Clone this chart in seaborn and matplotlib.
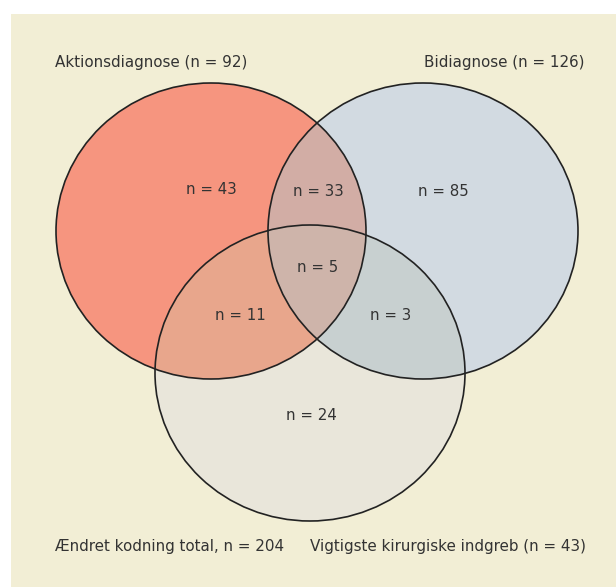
import numpy as np
import pandas as pd
import matplotlib
matplotlib.use("Agg")
import matplotlib.pyplot as plt
from matplotlib.patches import Ellipse, Polygon, Rectangle
import seaborn as sns

# ---- data ----
set_names = ["Aktionsdiagnose", "Bidiagnose", "Vigtigste kirurgiske indgreb"]
set_totals = [92, 126, 43]
total_label = "Ændret kodning total"
total_n = 204
region_keys = ["100", "010", "110", "111", "101", "011", "001"]
region_counts = [43, 85, 33, 5, 11, 3, 24]

sns.set_theme(style="white")
plt.rcParams["font.family"] = ["DejaVu Sans"]

W, H = 616, 587
fig = plt.figure(figsize=(W / 100, H / 100), dpi=100)
fig.patch.set_facecolor("white")
ax = fig.add_axes([0, 0, 1, 1])
ax.set_xlim(0, W)
ax.set_ylim(H, 0)
ax.set_axis_off()

# panel background
ax.add_patch(Rectangle((11, 14), W - 11, H - 14, facecolor="#F2EED5", edgecolor="none", zorder=0))

# ellipse layout (pixel space)
centers = [(211, 231), (423, 231), (310, 373)]
rx, ry = 155, 148
base_cols = ["#F6957F", "#D2DAE1", "#E9E6DA"]
pair_cols = {(0, 1): "#D2ADA5", (0, 2): "#E8A68C", (1, 2): "#C8D0D0"}
triple_col = "#CEB4AA"
text_col = "#333333"

def inside(pts, i, tol=1e-6):
    cx, cy = centers[i]
    return ((pts[:, 0] - cx) / rx) ** 2 + ((pts[:, 1] - cy) / ry) ** 2 <= 1 + tol

def boundary(i, n=1440):
    t = np.linspace(0, 2 * np.pi, n, endpoint=False)
    cx, cy = centers[i]
    return np.column_stack([cx + rx * np.cos(t), cy + ry * np.sin(t)])

def intersection_poly(idx):
    pts = []
    for i in idx:
        b = boundary(i)
        m = np.ones(len(b), bool)
        for j in idx:
            if j != i:
                m &= inside(b, j, 1e-3)
        pts.append(b[m])
    pts = np.vstack(pts)
    c = pts.mean(axis=0)
    ang = np.arctan2(pts[:, 1] - c[1], pts[:, 0] - c[0])
    return pts[np.argsort(ang)]

for i, (c, col) in enumerate(zip(centers, base_cols)):
    ax.add_patch(Ellipse(c, 2 * rx, 2 * ry, facecolor=col, edgecolor="none", zorder=1 + i))
for k, col in pair_cols.items():
    ax.add_patch(Polygon(intersection_poly(k), closed=True, facecolor=col, edgecolor="none", zorder=5))
ax.add_patch(Polygon(intersection_poly((0, 1, 2)), closed=True, facecolor=triple_col, edgecolor="none", zorder=6))
for c in centers:
    ax.add_patch(Ellipse(c, 2 * rx, 2 * ry, facecolor="none", edgecolor="#222222", lw=1.2, zorder=7))

# region labels
label_pos = {"100": (211, 190), "010": (443, 192), "110": (318, 192), "111": (318, 267),
             "101": (240, 316), "011": (391, 316), "001": (311, 415)}
df = pd.DataFrame({"key": region_keys, "n": region_counts})
for _, r in df.iterrows():
    x, y = label_pos[r["key"]]
    ax.text(x, y, f"n = {r['n']}", ha="center", va="center", fontsize=10.8, color=text_col, zorder=8)

fs = 10.9
ax.text(55, 62, f"{set_names[0]} (n = {set_totals[0]})", ha="left", va="center", fontsize=fs, color=text_col)
ax.text(585, 62, f"{set_names[1]} (n = {set_totals[1]})", ha="right", va="center", fontsize=fs, color=text_col)
ax.text(55, 546, f"{total_label}, n = {total_n}", ha="left", va="center", fontsize=fs, color=text_col)
ax.text(586, 546, f"{set_names[2]} (n = {set_totals[2]})", ha="right", va="center", fontsize=fs, color=text_col)

fig.savefig("out.png", dpi=100)
